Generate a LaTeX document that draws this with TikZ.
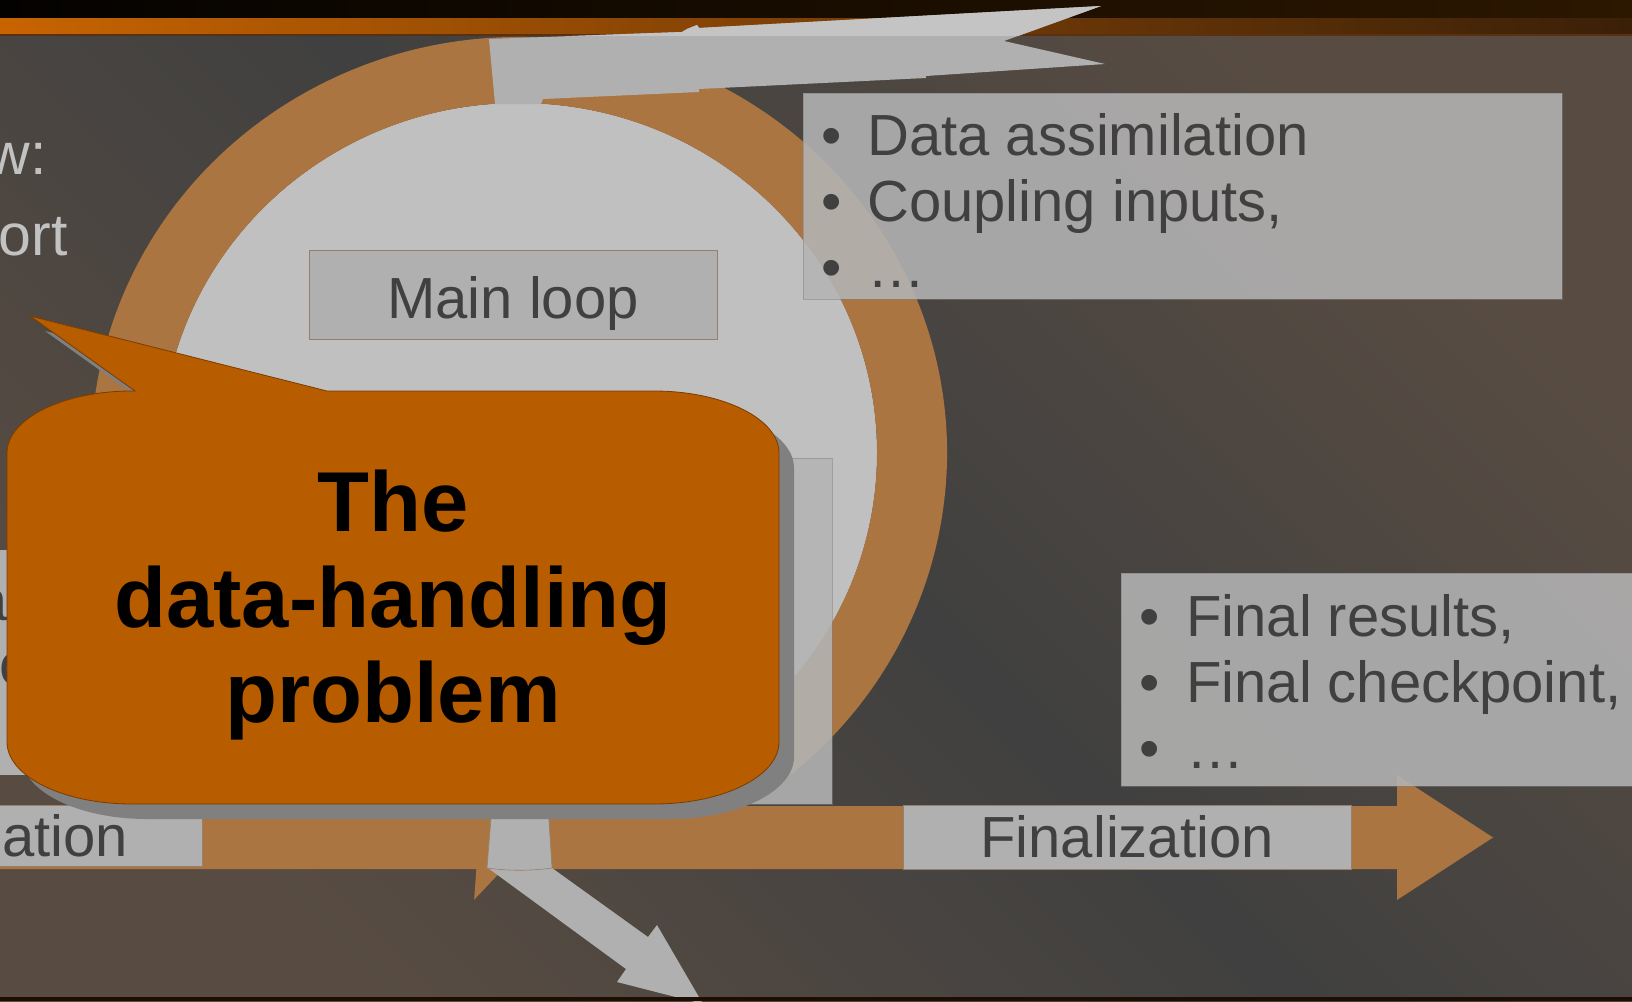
\documentclass[tikz,border=0pt]{standalone}
\usepackage{fontspec}
\setmainfont{Liberation Sans}
\usetikzlibrary{calc}
\definecolor{ringc}{HTML}{AB7542}
\definecolor{diskc}{HTML}{C0C0C0}
\definecolor{boxc}{HTML}{B0B0B0}
\definecolor{boxedge}{HTML}{96806C}
\definecolor{txtc}{HTML}{404040}
\definecolor{lighttxt}{HTML}{C2C2C2}
\definecolor{callc}{HTML}{B85C00}
\definecolor{calledge}{HTML}{7A3C00}
\definecolor{shadc}{HTML}{808080}
\definecolor{bgdark}{HTML}{404040}
\definecolor{bgbrown}{HTML}{584C42}
\definecolor{topL}{HTML}{040200}
\definecolor{topR}{HTML}{2C1700}
\definecolor{orL}{HTML}{C86400}
\definecolor{orM}{HTML}{7C3F06}
\definecolor{orR}{HTML}{3A2008}
\definecolor{bandline}{HTML}{5A3010}
\definecolor{botc}{HTML}{1E0E00}
\definecolor{arrowc}{HTML}{B0B0B0}
\definecolor{arrowtop}{HTML}{C4C4C4}
\definecolor{translc}{HTML}{B4B4B4}
\newcommand\mycallpath{(7,453) arc[start angle=180, end angle=270, x radius=125, y radius=62] -- (135,391) -- (30,316) -- (327,391) -- (654,391) arc[start angle=270, end angle=360, x radius=125, y radius=62] -- (779,742) arc[start angle=0, end angle=90, x radius=125, y radius=62] -- (132,804) arc[start angle=90, end angle=180, x radius=125, y radius=62] -- cycle}
\newcommand\mytoparrow{(489,39) -- (682,32) -- (687,29) -- (697,25) -- (699,28) -- (1101,6) -- (1004,41) -- (1105,64) -- (926,76) -- (926,78) -- (699,89) -- (699,92) -- (543,99) -- (541,104) -- (495,104) -- cycle}
\begin{document}
\begin{tikzpicture}[x=1pt,y=-1pt,
  boxst/.style={draw=boxedge, line width=0.8pt, fill=boxc, inner sep=0pt},
  transbox/.style={fill=translc, fill opacity=0.88, draw=gray, draw opacity=0.5, line width=0.8pt, inner sep=0pt},
  bodytxt/.style={font=\fontsize{58}{66}\selectfont, text=txtc, inner sep=0pt, anchor=base west},
  bul/.style={font=\fontsize{58}{66}\selectfont, text=txtc, inner sep=0pt, anchor=base},
  lefttxt/.style={font=\fontsize{59}{66}\selectfont, text=lighttxt, inner sep=0pt, anchor=base east},
  calltxt/.style={font=\fontsize{85}{95}\selectfont\bfseries, text=black, inner sep=0pt, anchor=base}]
\useasboundingbox (0,0) rectangle (1632,1001);
\clip (0,0) rectangle (1632,1001);
% background
\shade[top color=bgbrown, bottom color=bgbrown, middle color=bgdark, shading angle=-45] (0,34) rectangle (1632,1001);
\shade[left color=topL, right color=topR] (0,0) rectangle (1632,18);
\shade[left color=orL, right color=orR, middle color=orM] (0,18) rectangle (1632,35);
\draw[bandline, line width=1.5pt] (0,35) -- (1632,35);
% left partial texts
\node[lefttxt] (ovw) at (47,174) {w:};
\node[lefttxt] (sup) at (68,255) {ort};
% loop disk and ring
\coordinate (c) at (519,453);
\fill[diskc] (c) ellipse[x radius=358, y radius=350];
\fill[ringc] ($(c)+(60:428 and 416)$) arc[start angle=60, end angle=-264.3, x radius=428, y radius=416]
  -- ($(c)+(95.7:452 and 449)$) -- ($(c)+(87.7:393 and 383)$) -- ($(c)+(95.7:334 and 326)$)
  -- ($(c)+(95.7:358 and 350)$) arc[start angle=95.7, end angle=420, x radius=358, y radius=350] -- cycle;
% top gray arrow
\fill[arrowc] \mytoparrow;
\begin{scope}
  \clip (0,0) rectangle (1632,35);
  \fill[arrowtop] \mytoparrow;
\end{scope}
% main loop box
\node[boxst, anchor=north west, minimum width=408pt, minimum height=89pt] (mainbox) at (309,250) {};
\node[bodytxt, anchor=base] (maintxt) at (513,318) {Main loop};
% top right box
\node[transbox, anchor=north west, minimum width=759pt, minimum height=206pt] (inbox) at (803,93) {};
\node[bul] (ib1) at (832,155) {•};
\node[bul] (ib2) at (832,221) {•};
\node[bul] (ib3) at (832,287) {•};
\node[bodytxt] (it1) at (867,155) {Data assimilation};
\node[bodytxt] (it2) at (867,221) {Coupling inputs,};
\node[bodytxt] (it3) at (867,287) {…};
% boxes behind callout
\node[boxst, draw=none, anchor=north west, minimum width=305pt, minimum height=225pt] (leftbox) at (-5,550) {};
\node[bodytxt, anchor=base east] (lb1) at (8,620) {a};
\node[bodytxt] (lb2) at (-1,684) {c};
\node[transbox, anchor=north west, minimum width=332pt, minimum height=346pt] (rightbox) at (500,458) {};
% timeline bar
\fill[ringc] (-5,806) -- (1397,806) -- (1397,775) -- (1493,837.5) -- (1397,900) -- (1397,869) -- (-5,869) -- cycle;
\node[boxst, anchor=north west, minimum width=207pt, minimum height=61pt] (initbox) at (-5,805) {};
\node[bodytxt, anchor=base east] (inittxt) at (128,856) {zation};
\node[boxst, anchor=north west, minimum width=448pt, minimum height=64pt] (finbox) at (903,805) {};
\node[bodytxt, anchor=base] (fintxt) at (1127,857) {Finalization};
% final results box
\node[transbox, anchor=north west, minimum width=520pt, minimum height=213pt] (outbox) at (1121,573) {};
\node[bul] (ob1) at (1150,636) {•};
\node[bul] (ob2) at (1150,702) {•};
\node[bul] (ob3) at (1150,768) {•};
\node[bodytxt] (ot1) at (1186,636) {Final results,};
\node[bodytxt] (ot2) at (1186,702) {Final checkpoint,};
\node[bodytxt] (ot3) at (1186,768) {…};
% bottom gray arrow
\fill[arrowc] (488,868) -- (552,868) -- (648,937) -- (657,925) -- (703,1004) -- (617,982) -- (626,969) -- cycle;
\filldraw[fill=arrowc, draw=boxedge, line width=0.6pt] (492,806) -- (548,806) -- (552,868) .. controls (530,871) and (509,871) .. (487,868) -- cycle;
% callout
\fill[shadc, shift={(15,15)}] \mycallpath;
\filldraw[fill=callc, draw=calledge, line width=0.8pt] \mycallpath;
\node[calltxt] (ct1) at (393,531) {The};
\node[calltxt] (ct2) at (393,627) {data-handling};
\node[calltxt] (ct3) at (393,722) {problem};
% bottom line
\fill[botc] (0,997) rectangle (1632,1001);
\end{tikzpicture}
\end{document}
